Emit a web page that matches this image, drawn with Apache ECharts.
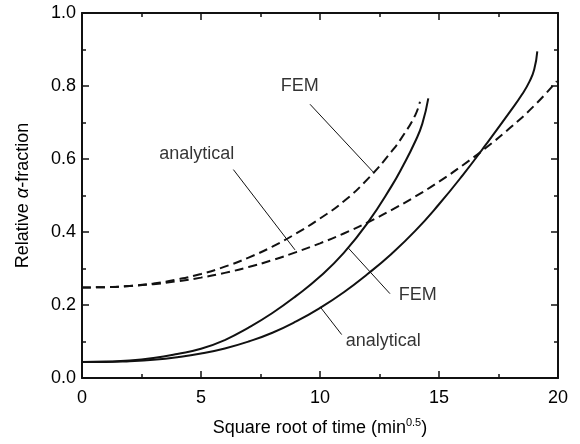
<!DOCTYPE html>
<html>
<head>
<meta charset="utf-8">
<script src="https://cdn.jsdelivr.net/npm/echarts@6/dist/echarts.min.js"></script>
<style>
  html, body { margin: 0; padding: 0; background: #fff; }
  #main { width: 580px; height: 444px; }
</style>
</head>
<body>
<div id="main"></div>
<script>
// curves (x = square root of time, y = relative alpha-fraction)
var femSolidX = [0, 1, 2, 3, 4, 5, 6, 7, 8, 9, 10, 11, 12, 13, 13.5, 14, 14.3, 14.55];
var femSolidY = [0.044, 0.045, 0.048, 0.055, 0.066, 0.08, 0.104, 0.138, 0.178, 0.225, 0.278, 0.343, 0.425, 0.525, 0.583, 0.648, 0.697, 0.766];

var anaSolidX = [0, 1, 2, 3, 4, 5, 6, 7, 8, 9, 10, 11, 12, 13, 14, 15, 16, 17, 18, 18.5, 18.8, 19, 19.13];
var anaSolidY = [0.044, 0.044, 0.046, 0.05, 0.057, 0.067, 0.081, 0.1, 0.124, 0.155, 0.192, 0.235, 0.285, 0.34, 0.403, 0.476, 0.556, 0.642, 0.731, 0.778, 0.812, 0.845, 0.895];

var femDashX = [0, 1, 2, 3, 4, 5, 6, 7, 8, 9, 10, 11, 12, 13, 13.5, 14, 14.2];
var femDashY = [0.248, 0.249, 0.252, 0.259, 0.27, 0.285, 0.305, 0.33, 0.36, 0.396, 0.437, 0.484, 0.545, 0.62, 0.665, 0.72, 0.757];

var anaDashX = [0, 1, 2, 3, 4, 5, 6, 7, 8, 9, 10, 11, 12, 13, 14, 15, 16, 17, 18, 19, 19.95];
var anaDashY = [0.248, 0.249, 0.252, 0.257, 0.265, 0.275, 0.288, 0.304, 0.323, 0.345, 0.369, 0.396, 0.426, 0.46, 0.497, 0.538, 0.583, 0.632, 0.686, 0.746, 0.813];

// annotation labels and their leader lines, in data units
var noteText = ['FEM', 'analytical', 'FEM', 'analytical'];
var noteAt = [[9.15, 0.799], [4.82, 0.613], [14.11, 0.227], [12.66, 0.1]];
var leaderFrom = [[9.58, 0.75], [6.36, 0.571], [12.94, 0.231], [10.91, 0.119]];
var leaderTo = [[12.24, 0.564], [8.95, 0.351], [11.19, 0.356], [10.03, 0.193]];

var xTicks = [0, 20, 5];
var yTicks = [0, 1, 0.2];

var FONT = "'Liberation Sans', Arial, sans-serif";
var INK = '#111';

function pairs(xs, ys) {
  return xs.map(function (x, i) { return [x, ys[i]]; });
}

function curve(xs, ys, dashed) {
  return {
    type: 'line',
    data: pairs(xs, ys),
    showSymbol: false,
    smooth: 0.5,
    lineStyle: { color: INK, width: 2, type: dashed ? [9, 5] : 'solid' },
    silent: true,
    z: 3
  };
}

var series = [
  curve(femSolidX, femSolidY, false),
  curve(anaSolidX, anaSolidY, false),
  curve(femDashX, femDashY, true),
  curve(anaDashX, anaDashY, true)
];

leaderFrom.forEach(function (p, i) {
  series.push({
    type: 'line',
    data: [p, leaderTo[i]],
    showSymbol: false,
    lineStyle: { color: INK, width: 1 },
    silent: true,
    z: 2
  });
});

series.push({
  type: 'scatter',
  data: noteAt.map(function (p, i) { return [p[0], p[1], noteText[i]]; }),
  symbolSize: 1,
  itemStyle: { color: 'rgba(0,0,0,0)' },
  label: {
    show: true,
    position: 'inside',
    formatter: function (p) { return p.value[2]; },
    color: '#000',
    fontSize: 18,
    fontFamily: FONT
  },
  silent: true
});

function axisBase(show) {
  return {
    type: 'value',
    axisLine: { show: true, onZero: false, lineStyle: { color: INK, width: 2 } },
    axisTick: { show: true, inside: true, length: 7, lineStyle: { color: INK, width: 1.5 } },
    minorTick: { show: true, splitNumber: 2, length: 4, lineStyle: { color: INK, width: 1.5 } },
    splitLine: { show: false },
    axisLabel: { show: show, color: '#000', fontSize: 18, fontFamily: FONT }
  };
}

var xMain = axisBase(true);
xMain.min = xTicks[0]; xMain.max = xTicks[1]; xMain.interval = xTicks[2];
xMain.position = 'bottom';
xMain.axisLabel.margin = 11;
xMain.name = 'Square root of time (min{s|0.5})';
xMain.nameLocation = 'middle';
xMain.nameGap = 39;
xMain.nameTextStyle = {
  color: '#000', fontSize: 18, fontFamily: FONT, lineHeight: 22,
  rich: { s: { fontSize: 11, fontFamily: FONT, color: '#000', verticalAlign: 'top', lineHeight: 22 } }
};

var xTop = axisBase(false);
xTop.min = xTicks[0]; xTop.max = xTicks[1]; xTop.interval = xTicks[2];
xTop.position = 'top';

var yMain = axisBase(true);
yMain.min = yTicks[0]; yMain.max = yTicks[1]; yMain.interval = yTicks[2];
yMain.position = 'left';
yMain.axisLabel.margin = 6;
yMain.axisLabel.formatter = function (v) { return v.toFixed(1); };
yMain.name = 'Relative {a|α}-fraction';
yMain.nameLocation = 'middle';
yMain.nameGap = 50;
yMain.nameTextStyle = {
  color: '#000', fontSize: 18, fontFamily: FONT,
  rich: { a: { fontSize: 18, fontFamily: FONT, fontStyle: 'italic', color: '#000' } }
};

var yRight = axisBase(false);
yRight.min = yTicks[0]; yRight.max = yTicks[1]; yRight.interval = yTicks[2];
yRight.position = 'right';

var chart = echarts.init(document.getElementById('main'));
chart.setOption({
  animation: false,
  backgroundColor: '#fff',
  grid: { left: 82, right: 22, top: 13, bottom: 63, containLabel: false },
  xAxis: [xMain, xTop],
  yAxis: [yMain, yRight],
  series: series
});
</script>
</body>
</html>
